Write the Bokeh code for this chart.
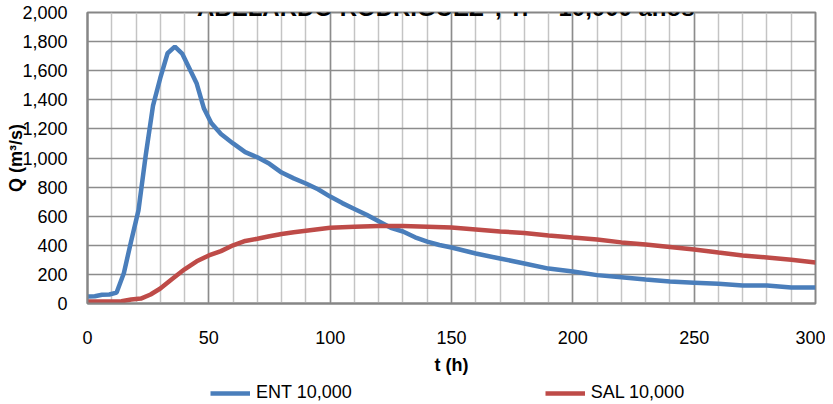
from bokeh.plotting import figure
from bokeh.layouts import column
from bokeh.models import (Range1d, FixedTicker, NumeralTickFormatter, Label,
                          Legend, LegendItem)
from bokeh.embed import file_html
from bokeh.resources import INLINE

# ---- data ----
t_ent = [0, 3, 6, 9, 12, 15, 18, 21, 24, 27, 30, 33, 36, 39, 42, 45, 48, 51, 55,
         60, 65, 70, 75, 80, 85, 90, 95, 100, 105, 110, 115, 120, 125, 130, 135,
         140, 145, 150, 160, 170, 180, 190, 200, 210, 220, 230, 240, 250, 260,
         270, 280, 290, 300]
q_ent = [48, 50, 60, 62, 75, 210, 430, 640, 1020, 1360, 1550, 1720, 1765, 1718,
         1615, 1512, 1340, 1240, 1165, 1100, 1040, 1005, 960, 900, 860, 825, 785,
         735, 690, 650, 610, 565, 520, 495, 455, 425, 402, 385, 344, 309, 275,
         240, 220, 195, 180, 165, 151, 143, 135, 124, 124, 110, 110]

t_sal = [0, 10, 14, 18, 22, 26, 30, 35, 40, 45, 50, 55, 60, 65, 70, 75, 80, 85,
         90, 95, 100, 110, 120, 130, 140, 150, 160, 170, 180, 190, 200, 210, 220,
         230, 240, 250, 260, 270, 280, 290, 300]
q_sal = [14, 14, 15, 27, 34, 62, 103, 170, 235, 290, 330, 360, 400, 430, 445,
         462, 478, 490, 500, 510, 520, 528, 532, 532, 528, 522, 509, 495, 485,
         467, 453, 440, 420, 405, 388, 371, 350, 330, 316, 300, 282]

x_major = [0, 50, 100, 150, 200, 250, 300]
x_minor = list(range(0, 301, 10))
y_major = list(range(0, 2001, 200))

title_text = '"ABELARDO RODRIGUEZ", Tr = 10,000 años'
series_names = ["ENT 10,000", "SAL 10,000"]
x_title = "t (h)"
y_title = "Q (m³/s)"

FONT = "Liberation Sans"
BLUE = "#4A7EBB"
RED = "#BE4B48"

p = figure(width=825, height=380, output_backend="svg", toolbar_location=None,
           x_range=Range1d(0, 300), y_range=Range1d(0, 2000),
           min_border_left=87, min_border_right=10, min_border_top=12,
           min_border_bottom=77)

p.outline_line_color = "#868686"
p.outline_line_width = 2

p.xaxis.ticker = FixedTicker(ticks=x_major, minor_ticks=x_minor)
p.yaxis.ticker = FixedTicker(ticks=y_major)
p.yaxis.formatter = NumeralTickFormatter(format="0,0")
for ax in (p.xaxis[0], p.yaxis[0]):
    ax.axis_line_color = "#868686"
    ax.axis_line_width = 2
    ax.major_tick_line_color = None
    ax.minor_tick_line_color = None
    ax.major_tick_out = 0
    ax.major_tick_in = 0
    ax.major_label_text_font = FONT
    ax.major_label_text_font_size = "18px"
    ax.major_label_text_color = "#000000"
    ax.axis_label_text_font = FONT
    ax.axis_label_text_font_style = "bold"
    ax.axis_label_text_font_size = "18px"
    ax.axis_label_text_color = "#000000"
p.xaxis.major_label_standoff = 23
p.yaxis.major_label_standoff = 20
p.xaxis.axis_label = x_title
p.xaxis.axis_label_standoff = 8
p.yaxis.axis_label = y_title
p.yaxis.axis_label_standoff = -7

p.xgrid.grid_line_color = "#8c8c8c"
p.xgrid.grid_line_width = 1.5
p.xgrid.minor_grid_line_color = "#c4c4c4"
p.xgrid.minor_grid_line_width = 1.5
p.ygrid.grid_line_color = "#8c8c8c"
p.ygrid.grid_line_width = 1.5

p.line(t_ent, q_ent, line_color=BLUE, line_width=4.5)
p.line(t_sal, q_sal, line_color=RED, line_width=4.5)

p.add_layout(Label(x=145.3, y=2000, y_offset=5, text=title_text,
                   text_align="center", text_baseline="alphabetic",
                   text_font=FONT, text_font_style="bold",
                   text_font_size="24px", text_color="#000000"))

# legend strip below the chart (series drawn out of view; only the key shows)
lg = figure(width=825, height=24, output_backend="svg", toolbar_location=None,
            x_range=Range1d(-2, -1), y_range=Range1d(-2, -1),
            min_border=0, outline_line_color=None)
lg.axis.visible = False
lg.grid.visible = False
l_ent = lg.line(t_ent, q_ent, line_color=BLUE, line_width=4.5)
l_sal = lg.line(t_sal, q_sal, line_color=RED, line_width=4.5)
legend = Legend(items=[LegendItem(label=series_names[0], renderers=[l_ent]),
                       LegendItem(label=series_names[1], renderers=[l_sal])],
                orientation="horizontal", location=(123, 1),
                border_line_color=None, background_fill_alpha=0,
                padding=0, margin=0, spacing=193, glyph_width=40,
                label_standoff=6, label_text_font=FONT,
                label_text_font_size="18px", label_text_color="#000000")
lg.add_layout(legend, "center")

layout = column(p, lg, spacing=0)
open("out.html", "w").write(file_html(layout, INLINE))
